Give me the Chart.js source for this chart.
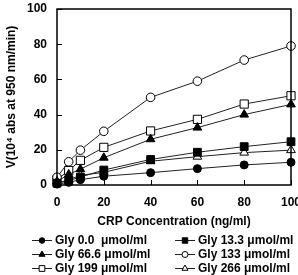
<!DOCTYPE html>
<html>
<head>
<meta charset="utf-8">
<script src="https://cdn.jsdelivr.net/npm/chart.js@4/dist/chart.umd.min.js"></script>
<style>
  html, body { margin: 0; padding: 0; background: #fff; }
  #wrap { width: 298px; height: 275px; }
</style>
</head>
<body>
<div id="wrap"><canvas id="crpChart"></canvas></div>
<script>
// CRP concentration (ng/ml)
const crpConc = [0, 5, 10, 20, 40, 60, 80, 100];
// V (10^4 abs at 950 nm/min) for each glycine level
const gly0   = [0.5, 1.5, 3, 5, 7, 9.3, 11.4, 12.9];
const gly13  = [1, 2.5, 4.5, 8.5, 14.5, 18.6, 21.8, 24.6];
const gly66  = [2, 6, 9, 15.5, 26, 32.6, 40, 45.8];
const gly133 = [4.4, 13.2, 19.8, 30.5, 49.8, 59, 71, 79];
const gly199 = [3, 8.2, 14, 21.4, 30.7, 37.3, 46, 50.7];
const gly266 = [1, 3, 5.5, 7.2, 13.5, 16.1, 18.4, 19.8];
const seriesLabels = [
    'Gly 0.0  μmol/ml', 'Gly 13.3 μmol/ml', 'Gly 66.6 μmol/ml',
    'Gly 133 μmol/ml', 'Gly 199 μmol/ml', 'Gly 266 μmol/ml'
];
const xTicks = [0, 20, 40, 60, 80, 100];
const yTicks = [0, 20, 40, 60, 80, 100];

Chart.defaults.font = { family: "'Liberation Sans', Arial, sans-serif", size: 12, weight: 'bold' };
Chart.defaults.color = '#000';

const toPoints = (ys) => ys.map((y, i) => ({ x: crpConc[i], y: y }));

const mk = (label, ys, style, radius, filled) => ({
    label: label,
    data: toPoints(ys),
    borderColor: '#222',
    borderWidth: 1,
    pointStyle: style,
    pointRadius: radius,
    pointHoverRadius: radius,
    pointBackgroundColor: filled ? '#000' : '#fff',
    pointBorderColor: '#000',
    pointBorderWidth: 1,
    fill: false,
    tension: 0,
    clip: false
});

const datasets = [
    mk(seriesLabels[0], gly0, 'circle', 4, true),
    mk(seriesLabels[1], gly13, 'rect', 5.5, true),
    mk(seriesLabels[2], gly66, 'triangle', 5, true),
    mk(seriesLabels[3], gly133, 'circle', 4.3, false),
    mk(seriesLabels[4], gly199, 'rect', 5.8, false),
    mk(seriesLabels[5], gly266, 'triangle', 5, false)
];

// frame round the plot and short tick marks pointing inwards
const frameTicks = {
    id: 'frameTicks',
    afterDraw(chart) {
        const { ctx, chartArea: a, scales } = chart;
        ctx.save();
        ctx.strokeStyle = '#000';
        ctx.lineWidth = 1.5;
        ctx.strokeRect(a.left, a.top, a.right - a.left, a.bottom - a.top);
        ctx.lineWidth = 1;
        ctx.beginPath();
        scales.x.ticks.forEach(t => {
            const px = Math.round(scales.x.getPixelForValue(t.value)) + 0.5;
            ctx.moveTo(px, a.bottom);
            ctx.lineTo(px, a.bottom - 5);
        });
        scales.y.ticks.forEach(t => {
            const py = Math.round(scales.y.getPixelForValue(t.value)) + 0.5;
            ctx.moveTo(a.left, py);
            ctx.lineTo(a.left + 5, py);
        });
        ctx.stroke();
        ctx.restore();
    }
};

// two-column legend under the axis title
const gridLegend = {
    id: 'gridLegend',
    afterDraw(chart) {
        const ctx = chart.ctx;
        const cols = [32, 175];
        const rows = [240, 254, 268];
        ctx.save();
        ctx.font = "bold 12px 'Liberation Sans', Arial, sans-serif";
        ctx.textBaseline = 'middle';
        ctx.textAlign = 'left';
        chart.data.datasets.forEach((ds, i) => {
            const x = cols[i % 2];
            const y = rows[Math.floor(i / 2)];
            ctx.strokeStyle = '#222';
            ctx.lineWidth = 1;
            ctx.beginPath();
            ctx.moveTo(x, y + 0.5);
            ctx.lineTo(x + 20, y + 0.5);
            ctx.stroke();
            ctx.fillStyle = ds.pointBackgroundColor;
            ctx.strokeStyle = '#000';
            Chart.helpers.drawPoint(ctx, {
                pointStyle: ds.pointStyle,
                radius: ds.pointRadius * 0.7,
                rotation: 0,
                borderWidth: 1
            }, x + 10, y + 0.5);
            ctx.fillStyle = '#000';
            ctx.fillText(ds.label, x + 23, y + 1);
        });
        ctx.restore();
    }
};

const crpChart = new Chart(document.getElementById('crpChart'), {
    type: 'line',
    data: { datasets: datasets },
    options: {
        responsive: true,
        maintainAspectRatio: false,
        animation: false,
        layout: { padding: { top: 9, right: 7, bottom: 45, left: 0 } },
        plugins: { legend: { display: false }, tooltip: { enabled: false } },
        scales: {
            x: {
                type: 'linear',
                min: 0,
                max: 100,
                grid: { display: false, drawTicks: false },
                border: { display: false },
                ticks: { padding: 10, maxRotation: 0 },
                afterBuildTicks: s => { s.ticks = xTicks.map(v => ({ value: v })); },
                afterFit: s => { s.height = 45; s.paddingLeft = 0; s.paddingRight = 0; },
                title: {
                    display: true,
                    text: 'CRP Concentration (ng/ml)',
                    padding: { top: 0, bottom: 1 }
                }
            },
            y: {
                min: 0,
                max: 100,
                grid: { display: false, drawTicks: false },
                border: { display: false },
                ticks: { padding: 10 },
                afterBuildTicks: s => { s.ticks = yTicks.map(v => ({ value: v })); },
                afterFit: s => { s.width = 57; s.paddingTop = 0; s.paddingBottom = 0; },
                title: {
                    display: true,
                    text: 'V(10⁴ abs at 950 nm/min)',
                    padding: { top: 4, bottom: 0 }
                }
            }
        }
    },
    plugins: [frameTicks, gridLegend]
});
</script>
</body>
</html>
